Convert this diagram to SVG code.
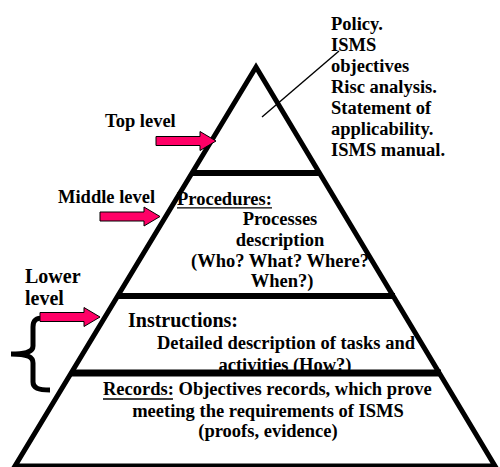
<svg xmlns="http://www.w3.org/2000/svg" width="500" height="467" viewBox="0 0 500 467">
  <style>
    .t { font-family: "Liberation Serif", "Times New Roman", serif; font-weight: 700; font-size: 18.5px; fill: #000; }
    .big { font-size: 20px; }
    .mid { text-anchor: middle; }
    .edge { fill: none; stroke: #000; stroke-width: 5; stroke-linejoin: miter; stroke-miterlimit: 10; }
    .tier { stroke: #000; stroke-width: 6; }
    .ul { stroke: #000; stroke-width: 1.3; }
    .arrow { fill: #FF0066; stroke: #000; stroke-width: 1; stroke-linejoin: miter; }
  </style>
  <defs>
    <!-- block arrow pointing right; origin at its tip -->
    <path id="blockArrow" d="M-60,-4.5 L-16,-4.5 L-16,-9.5 L0,0 L-16,9.5 L-16,4.5 L-60,4.5 Z"/>
  </defs>
  <rect width="500" height="467" fill="#fff"/>

  <!-- pyramid outline -->
  <g id="pyramid">
    <polygon class="edge" points="256,67 495,466 15,466"/>
  </g>

  <!-- tier dividers -->
  <g id="dividers">
    <line class="tier" x1="192" y1="173" x2="320" y2="173"/>
    <line class="tier" x1="117" y1="296" x2="395" y2="296"/>
  </g>

  <!-- top tier: policy documents -->
  <g id="top-tier">
    <line x1="339" y1="51" x2="262" y2="117" stroke="#000" stroke-width="1.4"/>
    <text class="t" x="331" y="30">Policy.</text>
    <text class="t" x="331" y="51">ISMS</text>
    <text class="t" x="331" y="72">objectives</text>
    <text class="t" x="331" y="93">Risc analysis.</text>
    <text class="t" x="331" y="114">Statement of</text>
    <text class="t" x="331" y="135">applicability.</text>
    <text class="t" x="331" y="156">ISMS manual.</text>
  </g>

  <!-- middle tier: procedures -->
  <g id="middle-tier">
    <text class="t" x="177" y="205">Procedures:</text>
    <line class="ul" x1="177" y1="207.8" x2="272" y2="207.8"/>
    <text class="t mid" x="280" y="225">Processes</text>
    <text class="t mid" x="280" y="246">description</text>
    <text class="t mid" x="280" y="267">(Who? What? Where?</text>
    <text class="t mid" x="282" y="287">When?)</text>
  </g>

  <!-- lower tier: instructions -->
  <g id="lower-tier">
    <text class="t big" x="128" y="327">Instructions:</text>
    <text class="t mid" x="286" y="349">Detailed description of tasks and</text>
    <text class="t mid" x="285" y="371">activities (How?)</text>
  </g>

  <!-- divider drawn over the instructions text -->
  <g id="divider-lower">
    <line x1="71" y1="373" x2="441" y2="373" stroke="#000" stroke-width="7"/>
  </g>

  <!-- base tier: records -->
  <g id="base-tier">
    <text class="t" x="103" y="395">Records: Objectives records, which prove</text>
    <line class="ul" x1="103" y1="399" x2="173" y2="399"/>
    <text class="t mid" x="268" y="417">meeting the requirements of ISMS</text>
    <text class="t mid" x="268" y="437">(proofs, evidence)</text>
  </g>

  <!-- level labels -->
  <g id="label-top">
    <text class="t" x="105" y="127">Top level</text>
  </g>
  <g id="label-middle">
    <text class="t" x="58" y="203">Middle level</text>
  </g>
  <g id="label-lower">
    <text class="t big" x="25" y="283">Lower</text>
    <text class="t big" x="25" y="305">level</text>
    <path d="M44,318 C36,318 33,320 33,327 L33,346 C33,351 28,354 11,354 C28,354 33,357 33,363 L33,382 C33,388 38,390 50,390" fill="none" stroke="#000" stroke-width="5"/>
  </g>

  <!-- pointer arrows -->
  <g id="connectors">
    <use href="#blockArrow" class="arrow" transform="translate(216,141)"/>
    <use href="#blockArrow" class="arrow" transform="translate(160,216.5)"/>
    <use href="#blockArrow" class="arrow" transform="translate(100,317)"/>
  </g>
</svg>
